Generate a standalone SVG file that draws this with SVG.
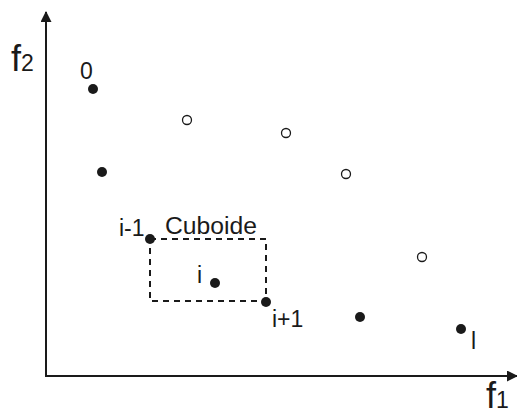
<svg xmlns="http://www.w3.org/2000/svg" width="517" height="412" viewBox="0 0 517 412">
  <style>
    .axis { stroke: #1a1a1a; stroke-width: 2; fill: none; }
    .box { stroke: #1a1a1a; stroke-width: 2; fill: none; stroke-dasharray: 6 5; }
    .pt { fill: #1a1a1a; }
    .open { fill: #ffffff; stroke: #1a1a1a; stroke-width: 1.3; }
    text { font-family: "Liberation Sans", Arial, sans-serif; fill: #1a1a1a; }
    .lbl { font-size: 23px; }
    .ax { font-size: 36px; }
    .sub { font-size: 23px; }
  </style>
  <defs>
    <marker id="arrow" markerWidth="11" markerHeight="11" refX="10" refY="5.5" orient="auto" markerUnits="userSpaceOnUse">
      <path d="M0,0 L11,5.5 L0,11 Z" fill="#1a1a1a"/>
    </marker>
  </defs>

  <!-- axes -->
  <g id="axes">
    <line class="axis" x1="46" y1="377" x2="46" y2="12" marker-end="url(#arrow)"/>
    <line class="axis" x1="45" y1="376" x2="517" y2="376" marker-end="url(#arrow)"/>
    <text class="ax" x="11" y="71">f<tspan class="sub">2</tspan></text>
    <text class="ax" x="486" y="408">f<tspan class="sub">1</tspan></text>
  </g>

  <!-- cuboid around point i -->
  <g id="cuboid">
    <rect class="box" x="150" y="239" width="116" height="62"/>
    <text class="lbl" x="165" y="234" textLength="92" lengthAdjust="spacingAndGlyphs">Cuboide</text>
  </g>

  <!-- non-dominated front (filled) -->
  <g id="p0"><circle class="pt" cx="93" cy="89" r="5"/><text class="lbl" x="80" y="79">0</text></g>
  <g id="p1"><circle class="pt" cx="102" cy="172" r="5"/></g>
  <g id="p-im1"><circle class="pt" cx="150" cy="239" r="5"/><text class="lbl" x="119" y="236">i-1</text></g>
  <g id="p-i"><circle class="pt" cx="215" cy="283" r="5"/><text class="lbl" x="197" y="283">i</text></g>
  <g id="p-ip1"><circle class="pt" cx="266" cy="302" r="5"/><text class="lbl" x="272" y="327">i+1</text></g>
  <g id="p5"><circle class="pt" cx="360" cy="317" r="5"/></g>
  <g id="p-l"><circle class="pt" cx="461" cy="329" r="5"/><text class="lbl" x="471" y="349">l</text></g>

  <!-- dominated solutions (open) -->
  <g id="q1"><circle class="open" cx="187" cy="120" r="4.5"/></g>
  <g id="q2"><circle class="open" cx="286" cy="133" r="4.5"/></g>
  <g id="q3"><circle class="open" cx="346" cy="174" r="4.5"/></g>
  <g id="q4"><circle class="open" cx="422" cy="257" r="4.5"/></g>
</svg>
